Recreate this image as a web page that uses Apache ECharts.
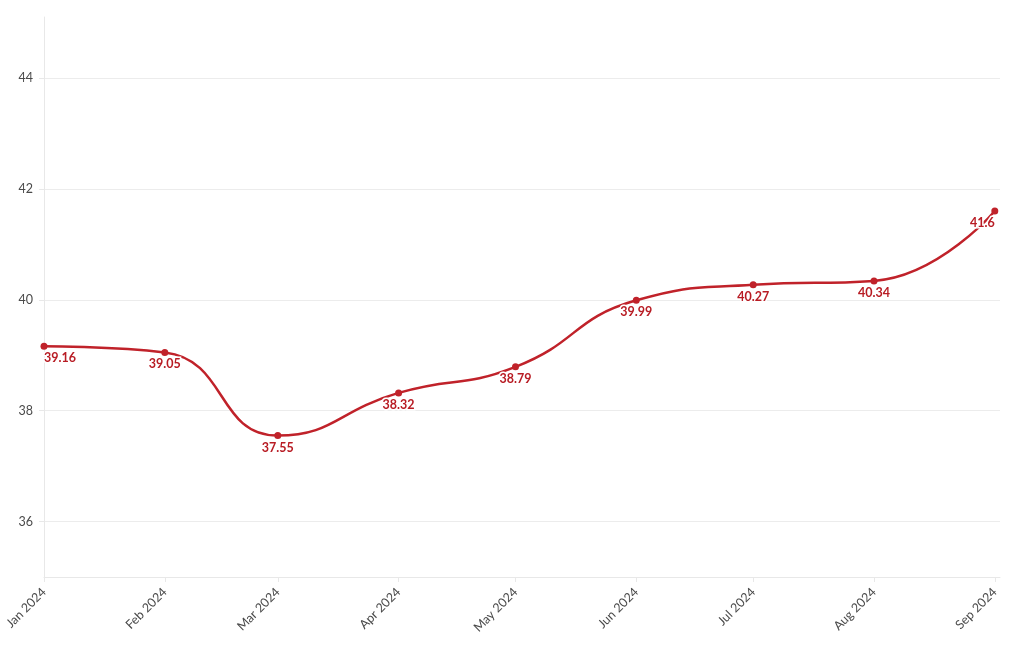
<!DOCTYPE html>
<html>
<head>
<meta charset="utf-8">
<script src="https://cdn.jsdelivr.net/npm/echarts@6/dist/echarts.min.js"></script>
<style>
html,body{margin:0;padding:0;background:#fff;}
#chart{width:1020px;height:650px;}
</style>
</head>
<body>
<div id="chart"></div>
<script>
var months = ['2024-01-01','2024-02-01','2024-03-01','2024-04-01','2024-05-01','2024-06-01','2024-07-01','2024-08-01','2024-09-01'];
var values = [39.16, 39.05, 37.55, 38.32, 38.79, 39.99, 40.27, 40.34, 41.6];
var monthNames = ['Jan','Feb','Mar','Apr','May','Jun','Jul','Aug','Sep','Oct','Nov','Dec'];

function ts(s){ var p = s.split('-'); return Date.UTC(+p[0], +p[1]-1, +p[2]); }
var seriesData = months.map(function(m, i){
  var item = { value: [ts(m), values[i]] };
  if (i === 0) item.label = { align: 'left' };
  if (i === months.length - 1) item.label = { align: 'right' };
  return item;
});

var chart = echarts.init(document.getElementById('chart'));
var fontFam = 'Lato, "Noto Sans", sans-serif';
chart.setOption({
  useUTC: true,
  animation: false,
  grid: { left: 44, right: 20, top: 17, bottom: 73, containLabel: false },
  xAxis: {
    type: 'time',
    min: ts('2024-01-01'),
    max: ts('2024-09-01') + 32 * 3600 * 1000,
    minInterval: 28 * 24 * 3600 * 1000,
    maxInterval: 31 * 24 * 3600 * 1000,
    axisLine: { show: true, lineStyle: { color: '#e8e8e8', width: 1 } },
    axisTick: { show: true, length: 5, lineStyle: { color: '#e8e8e8' } },
    splitLine: { show: false },
    axisLabel: {
      rotate: 45,
      color: '#4a4a4a',
      fontSize: 12.5,
      fontFamily: fontFam,
      margin: 13,
      showMaxLabel: false,
      formatter: function(v){
        var d = new Date(v);
        if (d.getUTCDate() !== 1) return '';
        return monthNames[d.getUTCMonth()] + ' ' + d.getUTCFullYear();
      }
    }
  },
  yAxis: {
    type: 'value',
    min: 35,
    max: 45.1,
    splitNumber: 5,
    axisLine: { show: true, lineStyle: { color: '#e8e8e8', width: 1 } },
    axisTick: { show: true, length: 5, lineStyle: { color: '#e8e8e8' } },
    splitLine: { show: true, showMinLine: false, showMaxLine: false, lineStyle: { color: '#ececec', width: 1 } },
    axisLabel: {
      color: '#4a4a4a',
      fontSize: 12.5,
      fontFamily: fontFam,
      margin: 11,
      showMinLabel: false,
      showMaxLabel: false
    }
  },
  series: [{
    type: 'line',
    data: seriesData,
    smooth: 0.5,
    symbol: 'circle',
    symbolSize: 7,
    lineStyle: { color: '#c0222a', width: 2.5 },
    itemStyle: { color: '#c0222a' },
    label: {
      show: true,
      position: 'bottom',
      distance: 2,
      color: '#b81c24',
      fontWeight: 'bold',
      fontSize: 12.5,
      fontFamily: fontFam,
      textBorderColor: '#fff',
      textBorderWidth: 3
    }
  }]
});
</script>
</body>
</html>
